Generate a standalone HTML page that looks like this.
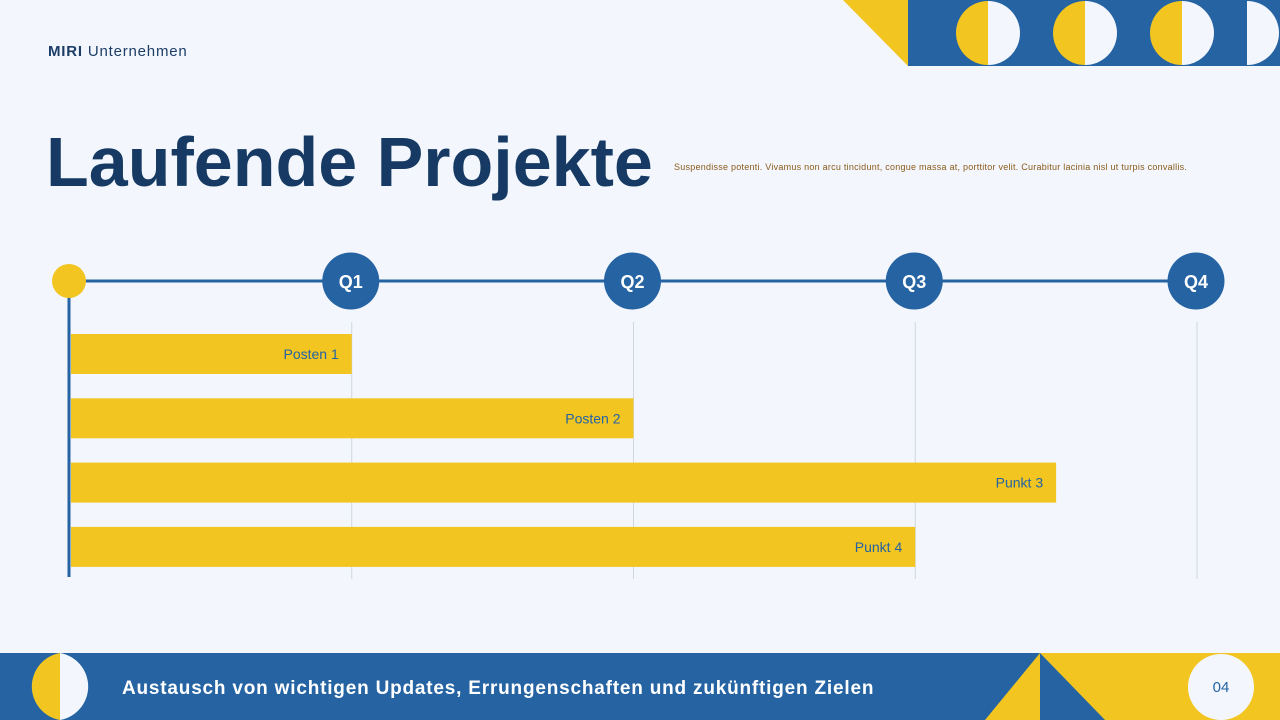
<!DOCTYPE html>
<html><head><meta charset="utf-8"><style>
body{margin:0;width:1280px;height:720px;overflow:hidden;background:#f3f7fd;font-family:"Liberation Sans",sans-serif;position:relative}
.abs{position:absolute}
</style></head><body>
<svg class="abs" style="left:0;top:0" width="1280" height="720">
<defs>
<clipPath id="topclip"><rect x="908" y="0" width="372" height="66"/></clipPath>
</defs>
<polygon points="843,0 908,0 908,66" fill="#f2c521"/>
<rect x="908" y="0" width="372" height="66" fill="#2563a3"/>
<g clip-path="url(#topclip)">
<g><path d="M988,1 A32,32 0 0 0 988,65 Z" fill="#f2c521"/><path d="M988,1 A32,32 0 0 1 988,65 Z" fill="#f3f7fd"/></g>
<g><path d="M1085,1 A32,32 0 0 0 1085,65 Z" fill="#f2c521"/><path d="M1085,1 A32,32 0 0 1 1085,65 Z" fill="#f3f7fd"/></g>
<g><path d="M1182,1 A32,32 0 0 0 1182,65 Z" fill="#f2c521"/><path d="M1182,1 A32,32 0 0 1 1182,65 Z" fill="#f3f7fd"/></g>
<path d="M1247,1 A32,32 0 0 1 1247,65 Z" fill="#f3f7fd"/>
</g>
<rect x="0" y="653" width="1040" height="67" fill="#2563a3"/>
<rect x="1040" y="653" width="240" height="67" fill="#f2c521"/>
<polygon points="1040,653 1040,720 985,720" fill="#f2c521"/>
<polygon points="1040,653 1040,720 1105,720" fill="#2563a3"/>
<path d="M60,653 A34,34 0 0 0 60,720 Z" fill="#f2c521"/>
<path d="M60,653 A34,34 0 0 1 60,720 Z" fill="#f3f7fd"/>
<circle cx="1221" cy="687" r="33" fill="#f3f7fd"/>
<text x="1221" y="692" text-anchor="middle" font-size="15" fill="#2563a3" font-family="Liberation Sans, sans-serif">04</text>
<text x="122" y="694" font-size="19" font-weight="bold" fill="#ffffff" letter-spacing="0.8" font-family="Liberation Sans, sans-serif">Austausch von wichtigen Updates, Errungenschaften und zukünftigen Zielen</text>
</svg>
<div class="abs" style="left:48px;top:43px;font-size:15px;letter-spacing:0.8px;color:#1c3d66"><b>MIRI</b> Unternehmen</div>
<div class="abs" style="left:46px;top:122px;font-size:70px;font-weight:bold;color:#163a63">Laufende Projekte</div>
<div class="abs" style="left:674px;top:162px;font-size:9px;letter-spacing:0.25px;color:#8a5a1a">Suspendisse potenti. Vivamus non arcu tincidunt, congue massa at, porttitor velit. Curabitur lacinia nisl ut turpis convallis.</div>
<svg id="chart" class="abs" style="left:0;top:0" width="1280" height="720"></svg>
<script>
const quarters=["Q1","Q2","Q3","Q4"];
const items=["Posten 1","Posten 2","Punkt 3","Punkt 4"];
const values=[1,2,3.5,3];
const svg=document.getElementById('chart');
const NS='http://www.w3.org/2000/svg';
const x0=70,x1=1197;
const xs=v=>x0+(x1-x0)*v/4;
const yTop=334,rowH=64.3,barH=40;
function mk(t,a){const e=document.createElementNS(NS,t);for(const k in a)e.setAttribute(k,a[k]);svg.appendChild(e);return e;}
quarters.forEach((q,i)=>{const g=mk('line',{x1:xs(i+1),x2:xs(i+1),y1:322,y2:579,stroke:'#cfd6e2','stroke-width':1});

});
const tl=mk('line',{x1:x0,x2:xs(4),y1:281,y2:281,stroke:'#2563a3','stroke-width':3});


const ax=mk('line',{x1:69,x2:69,y1:281,y2:577,stroke:'#2563a3','stroke-width':3});


const st=mk('circle',{cx:69,cy:281,r:17,fill:'#f2c521'});


quarters.forEach((q,i)=>{const c=mk('circle',{cx:xs(i+1)-1,cy:281,r:28.5,fill:'#2563a3'});


const t=mk('text',{x:xs(i+1)-1,y:288,'text-anchor':'middle','font-size':18,'font-weight':'bold',fill:'#fff'});t.textContent=q;

});
items.forEach((n,i)=>{const y=yTop+i*rowH;
const r=mk('rect',{x:71,y:y,width:xs(values[i])-71,height:barH,fill:'#f2c521'});


const t=mk('text',{x:xs(values[i])-13,y:y+25,'text-anchor':'end','font-size':14,fill:'#2563a3'});t.textContent=n;

});
</script>
</body></html>
